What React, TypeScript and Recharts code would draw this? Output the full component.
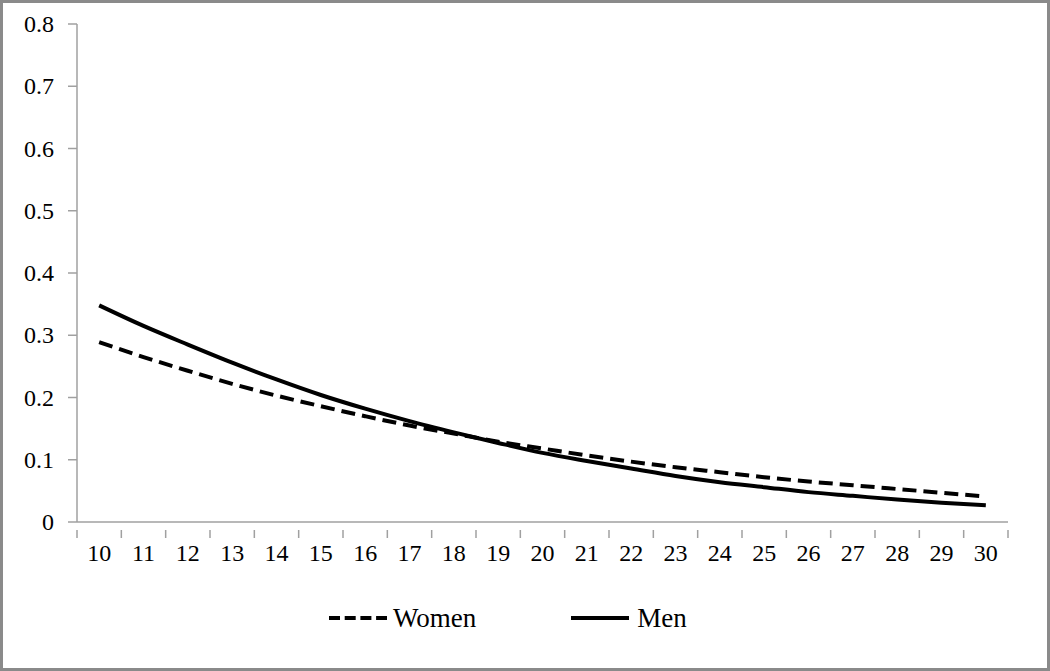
import React from "react";
import { LineChart, Line, XAxis, YAxis } from "recharts";

const ages = [10, 11, 12, 13, 14, 15, 16, 17, 18, 19, 20, 21, 22, 23, 24, 25, 26, 27, 28, 29, 30];
const women = [0.289, 0.265, 0.243, 0.222, 0.203, 0.186, 0.170, 0.155, 0.142, 0.129, 0.118, 0.107, 0.097, 0.088, 0.080, 0.072, 0.065, 0.059, 0.053, 0.047, 0.041];
const men = [0.348, 0.315, 0.285, 0.256, 0.229, 0.204, 0.182, 0.162, 0.144, 0.127, 0.111, 0.098, 0.086, 0.074, 0.064, 0.056, 0.048, 0.042, 0.036, 0.031, 0.027];
const yTicks = [0, 0.1, 0.2, 0.3, 0.4, 0.5, 0.6, 0.7, 0.8];

const data = ages.map((a, i) => ({ age: a, Women: women[i], Men: men[i] }));

const FONT = "'Liberation Serif', 'Times New Roman', serif";
const AXIS = "#a0a0a0";
const TICK_FS = 24;

const XTick = (props: any) => {
  const { x, y, payload, index, width } = props;
  const half = width / ages.length / 2;
  return (
    <g>
      <line x1={x - half} y1={y} x2={x - half} y2={y + 8} stroke={AXIS} strokeWidth={1.5} />
      {index === ages.length - 1 && (
        <line x1={x + half} y1={y} x2={x + half} y2={y + 8} stroke={AXIS} strokeWidth={1.5} />
      )}
      <text x={x} y={y + 31} textAnchor="middle" fontFamily={FONT} fontSize={TICK_FS} fill="#000">
        {payload.value}
      </text>
    </g>
  );
};

const YTick = (props: any) => {
  const { x, y, payload } = props;
  return (
    <text x={x} y={y + 8} textAnchor="end" fontFamily={FONT} fontSize={TICK_FS} fill="#000">
      {String(payload.value)}
    </text>
  );
};

export default function App() {
  return (
    <div
      style={{
        position: "absolute",
        left: 0,
        top: 0,
        width: 1050,
        height: 671,
        boxSizing: "border-box",
        border: "3px solid #8a8a8a",
        background: "#fff",
      }}
    >
      <LineChart width={1044} height={665} data={data} margin={{ top: 21, right: 39, left: 0, bottom: 106 }}>
        <XAxis
          dataKey="age"
          type="number"
          domain={[9.5, 30.5]}
          ticks={ages}
          allowDataOverflow
          stroke={AXIS}
          strokeWidth={1.5}
          tickLine={false}
          tick={<XTick />}
          height={40}
          interval={0}
        />
        <YAxis
          domain={[0, 0.8]}
          ticks={yTicks}
          width={74}
          stroke={AXIS}
          strokeWidth={1.5}
          tickSize={9}
          tickMargin={14}
          tick={<YTick />}
        />
        <Line dataKey="Women" stroke="#000" strokeWidth={4} strokeDasharray="14 7" dot={false} isAnimationActive={false} type="monotone" />
        <Line dataKey="Men" stroke="#000" strokeWidth={4} dot={false} isAnimationActive={false} type="monotone" />
      </LineChart>
      <div
        style={{
          position: "absolute",
          top: 600,
          left: 324,
          display: "flex",
          alignItems: "center",
          fontFamily: FONT,
          fontSize: 27,
          color: "#000",
          lineHeight: "30px",
        }}
      >
        <svg width={62} height={10}>
          <line x1={2} y1={5} x2={60} y2={5} stroke="#000" strokeWidth={4} strokeDasharray="11 4.7" />
        </svg>
        <span style={{ marginLeft: 4 }}>Women</span>
        <svg width={64} height={10} style={{ marginLeft: 93 }}>
          <line x1={2} y1={5} x2={60} y2={5} stroke="#000" strokeWidth={4} />
        </svg>
        <span style={{ marginLeft: 4 }}>Men</span>
      </div>
    </div>
  );
}
